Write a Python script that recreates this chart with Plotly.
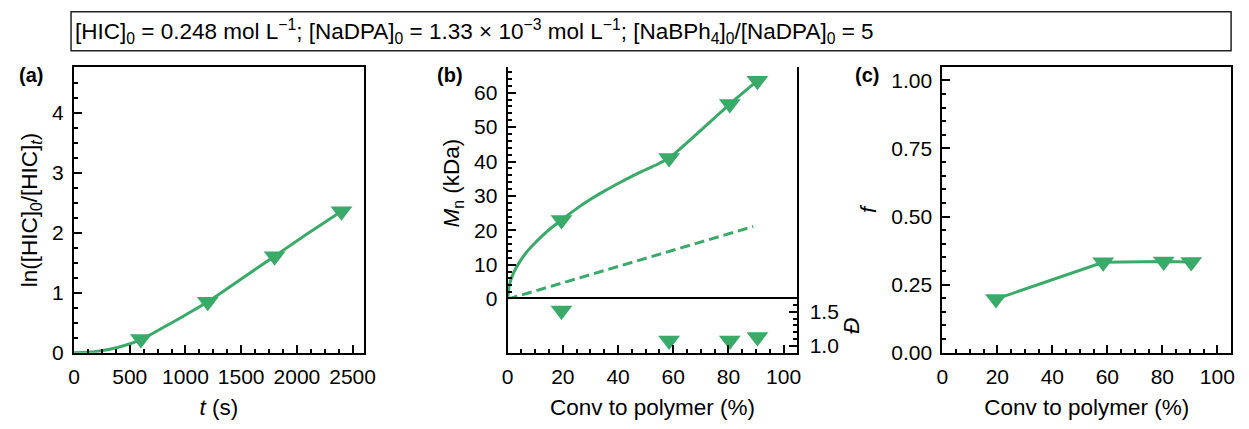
import plotly.graph_objects as go

# ---------------- data ----------------
# (a) kinetics
t_pts = [600, 1200, 1800, 2400]
ln_pts = [0.23, 0.85, 1.61, 2.36]
t_fit = [0, 200, 400, 600, 800, 1000, 1200, 1500, 1800, 2100, 2400]
ln_fit = [0, 0.02, 0.09, 0.22, 0.42, 0.63, 0.85, 1.23, 1.61, 1.99, 2.36]

# (b) Mn and dispersity vs conversion
conv_pts = [19.5, 58.5, 80.5, 90.5]
mn_pts = [23.0, 41.0, 56.7, 63.5]
disp_pts = [1.52, 1.08, 1.08, 1.13]
conv_fit = [0, 0.5, 1, 2, 4, 7, 10, 14, 19.5, 25, 30, 35, 40, 45, 50, 55, 58.5, 80.5, 90.5]
mn_fit = [0, 3.5, 5.2, 7.4, 10.4, 13.8, 16.4, 19.5, 23.0, 26.3, 29.0, 31.4, 33.6, 35.7, 37.6, 39.5, 41.0, 56.7, 63.5]
conv_theo = [0, 89]
mn_theo = [0, 21.1]

# (c) initiator efficiency
f_pts = [0.197, 0.332, 0.335, 0.333]

GREEN = "#3aaa69"
FONT = "Arial, Liberation Sans, sans-serif"
W, H = 1249, 429


def px_x(p):
    return p / W


def px_y(p):
    return 1 - p / H


fig = go.Figure()

mk = dict(symbol="triangle-down", size=19, color=GREEN, line=dict(width=0))
ln = dict(color=GREEN, width=3)

# (a)
fig.add_trace(go.Scatter(x=t_fit, y=ln_fit, mode="lines", line=dict(shape="spline", **ln),
                         xaxis="x", yaxis="y", showlegend=False))
fig.add_trace(go.Scatter(x=t_pts, y=ln_pts, mode="markers", marker=mk,
                         xaxis="x", yaxis="y", showlegend=False))

# (b) Mn
fig.add_trace(go.Scatter(x=conv_theo, y=mn_theo, mode="lines",
                         line=dict(color=GREEN, width=3, dash="10px,5px"),
                         xaxis="x2", yaxis="y2", showlegend=False))
fig.add_trace(go.Scatter(x=conv_fit, y=mn_fit, mode="lines", line=dict(shape="spline", smoothing=0.6, **ln),
                         xaxis="x2", yaxis="y2", showlegend=False))
fig.add_trace(go.Scatter(x=conv_pts, y=mn_pts, mode="markers", marker=mk,
                         xaxis="x2", yaxis="y2", showlegend=False))
# (b) dispersity
fig.add_trace(go.Scatter(x=conv_pts, y=disp_pts, mode="markers", marker=mk,
                         xaxis="x2", yaxis="y3", showlegend=False, cliponaxis=False))

# (c)
fig.add_trace(go.Scatter(x=conv_pts, y=f_pts, mode="lines+markers", line=ln, marker=mk,
                         xaxis="x3", yaxis="y4", showlegend=False))

tickfont = dict(family=FONT, size=21, color="black")
titlefont = dict(family=FONT, size=22.5, color="black")

base = dict(showline=True, linewidth=2, linecolor="black", mirror=True,
            ticks="inside", ticklen=8, tickwidth=1.5, tickcolor="black",
            showgrid=False, zeroline=False, tickfont=tickfont, title_font=titlefont)


def minor(d):
    return dict(ticks="inside", ticklen=4, tickwidth=1.5, tickcolor="black", dtick=d, showgrid=False)


dom_a = [px_x(69), px_x(363)]
dom_b = [px_x(509), px_x(803)]
dom_c = [px_x(950), px_x(1243)]
dom_y_full = [px_y(362), px_y(69)]
dom_y_up = [px_y(307), px_y(69)]
dom_y_low = [px_y(362), px_y(307)]

fig.update_layout(
    width=W, height=H,
    margin=dict(l=0, r=0, t=0, b=0),
    paper_bgcolor="white", plot_bgcolor="white",
    font=dict(family=FONT, color="black"),
    xaxis=dict(base, domain=dom_a, anchor="y", range=[0, 2600], dtick=500, tick0=0, ticklabelstandoff=4,
               minor=minor(125), title=dict(text="<i>t</i> (s)", standoff=12)),
    yaxis=dict(base, domain=dom_y_full, anchor="x", range=[0, 4.76], dtick=1, tick0=0, ticklabelstandoff=4,
               minor=minor(0.25), title=dict(text="ln([HIC]<sub>0</sub>/[HIC]<sub><i>t</i></sub>)", standoff=8)),
    xaxis2=dict(base, domain=dom_b, anchor="y3", range=[0, 105], dtick=20, tick0=0, ticklabelstandoff=4,
                minor=minor(5), title=dict(text="Conv to polymer (%)", standoff=12)),
    yaxis2=dict(base, domain=dom_y_up, anchor="x2", range=[0, 67.4], dtick=10, tick0=0, ticklabelstandoff=4,
                minor=minor(2), title=dict(text="<i>M</i><sub>n</sub> (kDa)", standoff=8)),
    yaxis3=dict(base, domain=dom_y_low, anchor="x2", side="right", range=[0.9, 1.686], ticklabelstandoff=6,
                dtick=0.5, tick0=1.0, tickformat=".1f", minor=minor(0.1),
                title=dict(text="<i>Đ</i>", standoff=4)),
    xaxis4=dict(showline=True, linewidth=2, linecolor="black", mirror=True, overlaying="x2",
                anchor="y2", range=[0, 105], ticks="", showticklabels=False, showgrid=False,
                zeroline=False),
    xaxis3=dict(base, domain=dom_c, anchor="y4", range=[0, 105], dtick=20, tick0=0, ticklabelstandoff=4,
                minor=minor(5), title=dict(text="Conv to polymer (%)", standoff=12)),
    yaxis4=dict(base, domain=dom_y_full, anchor="x3", range=[0, 1.048], dtick=0.25, tick0=0, ticklabelstandoff=4,
                tickformat=".2f", minor=minor(0.05), title=dict(text="<i>f</i>", standoff=8)),
)

# header box
fig.add_shape(type="rect", xref="paper", yref="paper",
              x0=px_x(66), x1=px_x(1243), y0=px_y(52), y1=px_y(12),
              line=dict(color="#222", width=1.5), fillcolor="rgba(0,0,0,0)")
fig.add_annotation(xref="paper", yref="paper", x=px_x(68), y=px_y(32), xanchor="left", yanchor="middle",
                   showarrow=False, font=dict(family=FONT, size=22.5, color="black"),
                   text="[HIC]<sub>0</sub> = 0.248 mol L<sup>−1</sup>; [NaDPA]<sub>0</sub> = 1.33 × 10<sup>−3</sup> mol L<sup>−1</sup>; "
                        "[NaBPh<sub>4</sub>]<sub>0</sub>/[NaDPA]<sub>0</sub> = 5")

for lab, xp in (("(a)", 25), ("(b)", 450), ("(c)", 874)):
    fig.add_annotation(xref="paper", yref="paper", x=px_x(xp), y=px_y(77), xanchor="center", yanchor="middle",
                       showarrow=False, font=dict(family=FONT, size=20, color="black"),
                       text=f"<b>{lab}</b>")

fig.write_html("out.html", config={"displayModeBar": False},
               post_script="document.body.style.margin='0';document.body.style.overflow='hidden';")
